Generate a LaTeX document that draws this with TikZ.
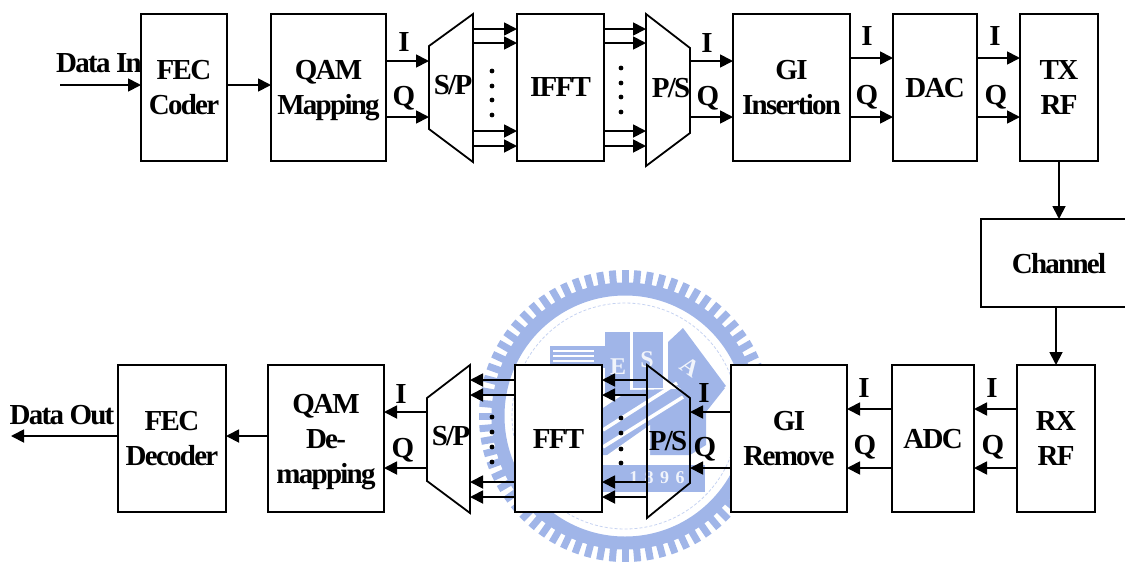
\documentclass[tikz,border=0pt]{standalone}
\usepackage{fontspec}
\setmainfont{Liberation Serif}[LetterSpace=-6]
\usepackage{tikz}
\usetikzlibrary{arrows.meta}
\definecolor{wmblue}{HTML}{A0B5E8}
\tikzset{
  blockbox/.style={draw, fill=white, line width=1.8pt, inner sep=0pt, outer sep=0pt, align=center, text depth=0pt},
  trapline/.style={draw, line width=1.8pt, line join=miter},
  flow/.style={line width=1.8pt, -{Triangle[length=13pt,width=13pt]}},
  lbl/.style={inner sep=0pt, align=center},
  wmtext/.style={white!85!wmblue, inner sep=0pt, font=\fontsize{24}{24}\selectfont\bfseries}
}
\begin{document}
\begin{tikzpicture}[x=1pt,y=-1pt,font=\fontsize{29}{35}\selectfont\bfseries]
\useasboundingbox (0,0) rectangle (1125,563);
% seal behind the receiver
\foreach \a in {0,5,...,355} \draw[wmblue, line width=7pt] (625,416) ++(\a:128) -- ++(\a:18);
\draw[wmblue, line width=13pt] (625,416) circle (127);
\draw[wmblue!60, line width=0.8pt, densely dashed] (625,416) circle (113);
\fill[wmblue] (550,346) rectangle (605,368);
\foreach \y in {351,356,361} \draw[white, line width=1.5pt] (553,\y) -- (594,\y);
\fill[wmblue] (605,332) rectangle (630,395);
\fill[wmblue] (633,332) rectangle (663,388);
\fill[wmblue] (668,342) -- (683,328) -- (726,386) -- (705,405) -- (668,380) -- cycle;
\fill[wmblue] (603,408) -- (630,390) -- (725,388) -- (706,412) -- (706,445) -- (690,455) -- (603,455) -- cycle;
\fill[white] (603,458) -- (650,425) -- (650,458) -- cycle;
\draw[white, line width=3.5pt] (603,430) -- (677,383);
\draw[white, line width=3.5pt] (603,447) -- (683,397);
\fill[wmblue] (603,465) rectangle (705,492);
\node[wmtext] (wme) at (618,367) {E};
\node[wmtext] (wms) at (647,360) {S};
\node[wmtext, rotate=-35] (wma) at (690,367) {A};
\node[wmtext, font=\fontsize{18}{20}\selectfont\bfseries\addfontfeature{LetterSpace=36}] (wmyear) at (657,478) {1896};
% transmitter
\node[blockbox, minimum width=86pt, minimum height=147pt] (fec) at (184,87.5) {FEC\\Coder};
\node[blockbox, minimum width=115pt, minimum height=147pt] (qam) at (328.5,87.5) {QAM\\Mapping};
\node[blockbox, minimum width=87pt, minimum height=147pt] (ifft) at (560.5,87.5) {IFFT};
\node[blockbox, minimum width=117pt, minimum height=147pt] (gii) at (791.5,87.5) {GI\\Insertion};
\node[blockbox, minimum width=84pt, minimum height=147pt] (dac) at (935,87.5) {DAC};
\node[blockbox, minimum width=78pt, minimum height=147pt] (txrf) at (1059,87.5) {TX\\RF};
\node[blockbox, minimum width=156pt, minimum height=88pt] (chan) at (1059,263) {Channel};
\draw[trapline] (429,46) coordinate (spa) -- (473,14) coordinate (spb) -- (473,162) -- (429,129) -- cycle;
\draw[trapline] (646,14) coordinate (psa) -- (690,48) coordinate (psb) -- (690,133) -- (646,166) -- cycle;
\node[lbl] (sptxt) at (453,85) {S/P};
\node[lbl] (pstxt) at (671,88) {P/S};
% receiver
\node[blockbox, minimum width=108pt, minimum height=147pt] (fecd) at (172,438.5) {FEC\\Decoder};
\node[blockbox, minimum width=116pt, minimum height=147pt] (qamd) at (326,438.5) {QAM\\De-\\mapping};
\node[blockbox, minimum width=87pt, minimum height=147pt] (fft) at (558.5,438.5) {FFT};
\node[blockbox, minimum width=116pt, minimum height=147pt] (gir) at (789,438.5) {GI\\Remove};
\node[blockbox, minimum width=82pt, minimum height=147pt] (adc) at (933,438.5) {ADC};
\node[blockbox, minimum width=78pt, minimum height=147pt] (rxrf) at (1056,438.5) {RX\\RF};
\draw[trapline] (427,398) coordinate (dsa) -- (470,365) coordinate (dsb) -- (470,513) -- (427,481) -- cycle;
\draw[trapline] (647,365) coordinate (rsa) -- (690,398) coordinate (rsb) -- (690,483) -- (647,518) -- cycle;
\node[lbl] (dstxt) at (451,436) {S/P};
\node[lbl] (rstxt) at (668,441) {P/S};
% connectors
\coordinate (datain) at (60,85);
\coordinate (dataout) at (11,436);
\draw[flow] (datain) -- (fec.west |- datain);
\draw[flow] (fec.east |- datain) -- (qam.west |- datain);
\draw[flow] (fecd.west |- dataout) -- (dataout);
\draw[flow] (qamd.west |- dataout) -- (fecd.east |- dataout);
\foreach \y in {61,117} {
  \draw[flow] (qam.east |- 0,\y) -- (spa |- 0,\y);
  \draw[flow] (psb |- 0,\y) -- (gii.west |- 0,\y);
}
\foreach \y in {58,117} {
  \draw[flow] (gii.east |- 0,\y) -- (dac.west |- 0,\y);
  \draw[flow] (dac.east |- 0,\y) -- (txrf.west |- 0,\y);
}
\foreach \y in {29,43,131,146} {
  \draw[flow] (spb |- 0,\y) -- (ifft.west |- 0,\y);
  \draw[flow] (ifft.east |- 0,\y) -- (psa |- 0,\y);
}
\draw[flow] (txrf.south) -- (chan.north -| txrf.south);
\draw[flow] (chan.south -| rxrf.north) -- (rxrf.north);
\foreach \y in {380,395,482,497} {
  \draw[flow] (rsa |- 0,\y) -- (fft.east |- 0,\y);
  \draw[flow] (fft.west |- 0,\y) -- (dsb |- 0,\y);
}
\foreach \y in {412,468} {
  \draw[flow] (gir.west |- 0,\y) -- (rsb |- 0,\y);
  \draw[flow] (dsa |- 0,\y) -- (qamd.east |- 0,\y);
}
\foreach \y in {409,468} {
  \draw[flow] (rxrf.west |- 0,\y) -- (adc.east |- 0,\y);
  \draw[flow] (adc.west |- 0,\y) -- (gir.east |- 0,\y);
}
% dots
\foreach \y in {71,86,100,115} \fill (492,\y) circle (2.4);
\foreach \y in {68,83,97,112} \fill (621,\y) circle (2.4);
\foreach \y in {417,432,447,462} \fill (492,\y) circle (2.4);
\foreach \y in {418,433,449,463} \fill (621,\y) circle (2.4);
% labels
\node[lbl] (datainl) at (99,63) {Data In};
\node[lbl] (dataoutl) at (62,415) {Data Out};
\node[lbl] (i1) at (404,42) {I};
\node[lbl] (q1) at (404,98) {Q};
\node[lbl] (i2) at (707,43) {I};
\node[lbl] (q2) at (708,98) {Q};
\node[lbl] (i3) at (867,36) {I};
\node[lbl] (q3) at (867,97) {Q};
\node[lbl] (i4) at (995,36) {I};
\node[lbl] (q4) at (996,97) {Q};
\node[lbl] (i5) at (401,394) {I};
\node[lbl] (q5) at (403,450) {Q};
\node[lbl] (i6) at (704,393) {I};
\node[lbl] (q6) at (705,449) {Q};
\node[lbl] (i7) at (864,388) {I};
\node[lbl] (q7) at (865,447) {Q};
\node[lbl] (i8) at (992,388) {I};
\node[lbl] (q8) at (993,447) {Q};
\end{tikzpicture}
\end{document}
